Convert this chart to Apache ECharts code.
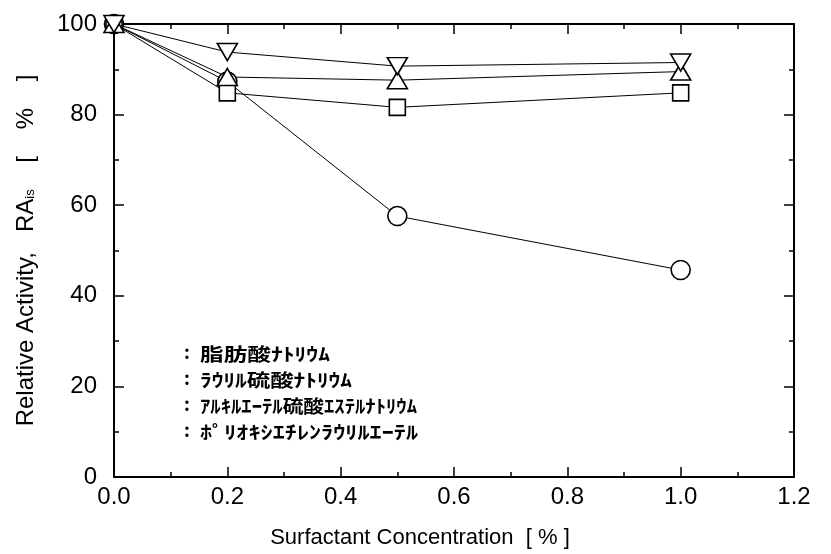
<!DOCTYPE html>
<html>
<head>
<meta charset="utf-8">
<script src="https://cdn.jsdelivr.net/npm/echarts@6/dist/echarts.min.js"></script>
<style>
  html, body { margin: 0; padding: 0; background: #fff; }
  #chart { width: 831px; height: 554px; }
</style>
</head>
<body>
<div id="chart"></div>
<script>
const concentration = [0, 0.2, 0.5, 1.0];
const fattyAcidNa = [100, 87.3, 57.6, 45.7];
const laurylSulfateNa = [100, 84.8, 81.6, 84.8];
const alkylEtherSulfateNa = [100, 88.3, 87.6, 89.5];
const polyoxyethyleneLaurylEther = [100, 93.8, 90.7, 91.5];

const seriesNames = ['脂肪酸ﾅﾄﾘｳﾑ', 'ﾗｳﾘﾙ硫酸ﾅﾄﾘｳﾑ', 'ｱﾙｷﾙｴｰﾃﾙ硫酸ｴｽﾃﾙﾅﾄﾘｳﾑ', 'ﾎﾟﾘｵｷｼｴﾁﾚﾝﾗｳﾘﾙｴｰﾃﾙ'];
const xTicks = [0, 0.2, 0.4, 0.6, 0.8, 1.0, 1.2];
const yTicks = [0, 20, 40, 60, 80, 100];

const chart = echarts.init(document.getElementById('chart'));

const pairs = (ys) => concentration.map((x, i) => [x, ys[i]]);

// 凡例の文字幅（元図に合わせた横幅）
const legendWidths = [130, 152, 217, 218];
const legendFont = 'bold 18px "Noto Sans CJK JP"';
const ctx = document.createElement('canvas').getContext('2d');
ctx.font = legendFont;

const legendTexts = [];
seriesNames.forEach((name, i) => {
  const y = 354 + i * 26;
  const w = ctx.measureText(name).width;
  legendTexts.push({
    type: 'text', left: 184, top: y - 11,
    style: { text: ':', font: 'bold 18px "Noto Sans CJK JP"', fill: '#000' }
  });
  legendTexts.push({
    type: 'text', x: 200, y: y, scaleX: legendWidths[i] / w,
    style: { text: name, font: legendFont, fill: '#000', verticalAlign: 'middle' }
  });
});

const axisLine = { onZero: false, lineStyle: { color: '#000', width: 2 } };
const tick = { inside: true, length: 10, lineStyle: { color: '#000', width: 1.5 } };
const minor = { show: true, splitNumber: 2, length: 5, lineStyle: { color: '#000', width: 1.5 } };
const mark = {
  color: '#fff', borderColor: '#000', borderWidth: 1.6
};

const option = {
  animation: false,
  grid: { left: 114, right: 37, top: 24, bottom: 77 },
  xAxis: [
    {
      type: 'value', min: 0, max: 1.2, interval: 0.2, position: 'bottom',
      axisLine, axisTick: tick, minorTick: minor,
      splitLine: { show: false },
      axisLabel: {
        color: '#000', fontSize: 24, fontFamily: 'Liberation Sans', margin: 8,
        formatter: (v) => v.toFixed(1)
      },
      name: 'Surfactant Concentration  [ % ]',
      nameLocation: 'middle', nameGap: 50,
      nameTextStyle: { color: '#000', fontSize: 22, fontFamily: 'Liberation Sans', padding: [0, 68, 0, 0] }
    },
    {
      type: 'value', min: 0, max: 1.2, interval: 0.2, position: 'top',
      axisLine, axisTick: tick, minorTick: minor,
      splitLine: { show: false }, axisLabel: { show: false }
    }
  ],
  yAxis: [
    {
      type: 'value', min: 0, max: 100, interval: 20, position: 'left',
      axisLine, axisTick: tick, minorTick: minor,
      splitLine: { show: false },
      axisLabel: { color: '#000', fontSize: 24, fontFamily: 'Liberation Sans', margin: 17 },
      name: 'Relative Activity,   RA{sub|is}    [    %    ]',
      nameLocation: 'middle', nameGap: 76, nameRotate: 90,
      nameTextStyle: {
        color: '#000', fontSize: 24, fontFamily: 'Liberation Sans',
        rich: { sub: { fontSize: 13, fontFamily: 'Liberation Sans', color: '#000', padding: [9, 0, 0, 0] } }
      }
    },
    {
      type: 'value', min: 0, max: 100, interval: 20, position: 'right',
      axisLine, axisTick: tick, minorTick: minor,
      splitLine: { show: false }, axisLabel: { show: false }
    }
  ],
  graphic: legendTexts,
  series: [
    {
      name: seriesNames[0], type: 'line', data: pairs(fattyAcidNa),
      symbol: 'circle', symbolSize: 19,
      lineStyle: { color: '#000', width: 1 }, itemStyle: mark
    },
    {
      name: seriesNames[1], type: 'line', data: pairs(laurylSulfateNa),
      symbol: 'rect', symbolSize: 16,
      lineStyle: { color: '#000', width: 1 }, itemStyle: mark
    },
    {
      name: seriesNames[2], type: 'line', data: pairs(alkylEtherSulfateNa),
      symbol: 'triangle', symbolSize: [20, 17],
      lineStyle: { color: '#000', width: 1 }, itemStyle: mark
    },
    {
      name: seriesNames[3], type: 'line', data: pairs(polyoxyethyleneLaurylEther),
      symbol: 'triangle', symbolSize: [20, 17], symbolRotate: 180,
      lineStyle: { color: '#000', width: 1 }, itemStyle: mark
    }
  ]
};

chart.setOption(option);
</script>
</body>
</html>
